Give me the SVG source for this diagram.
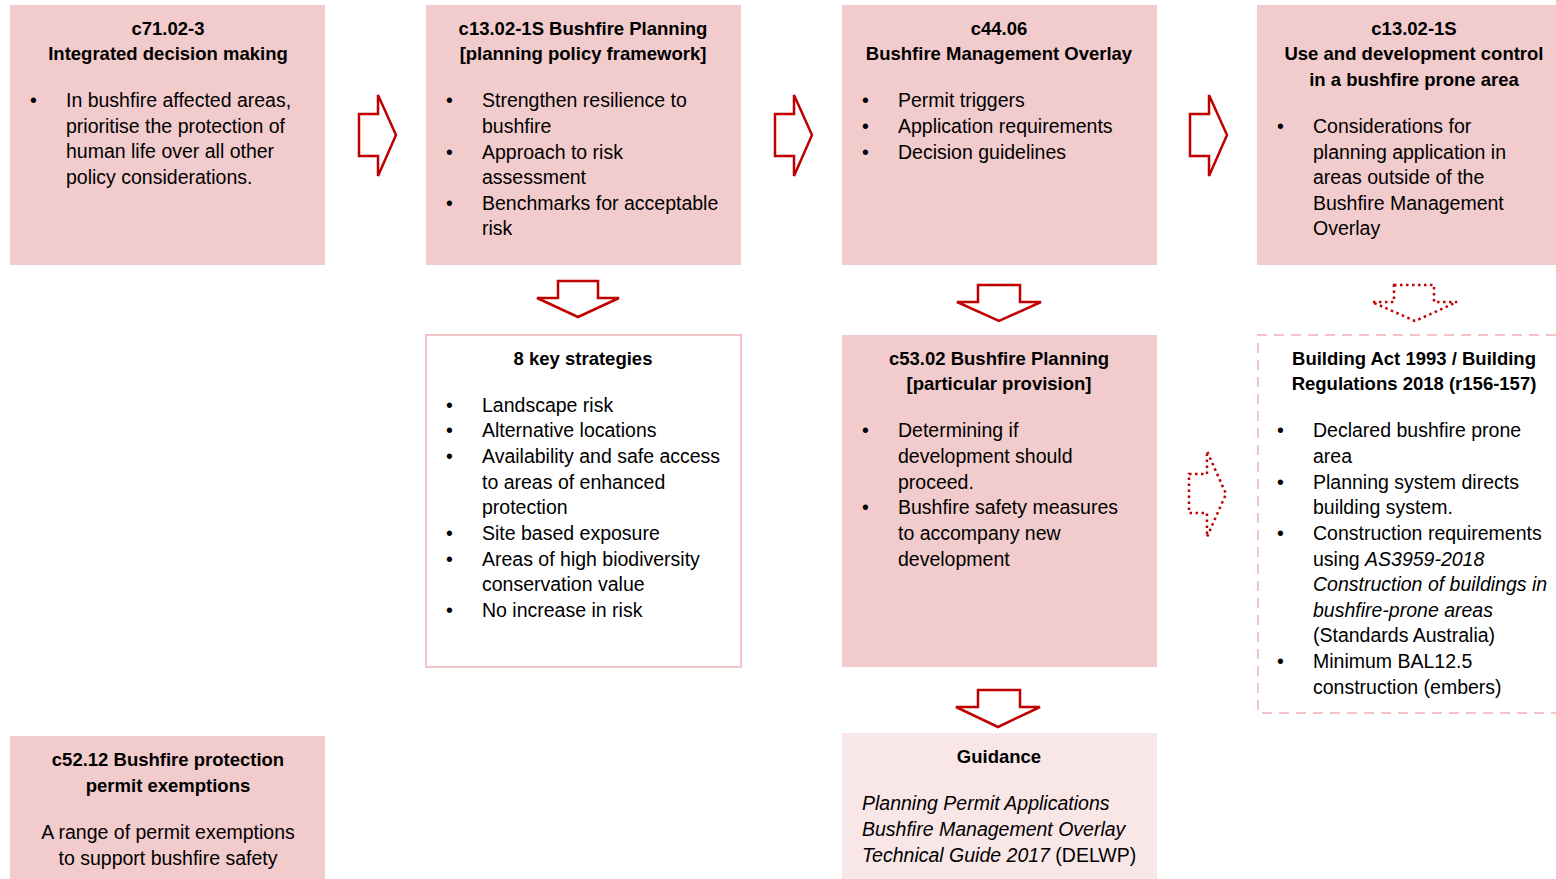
<svg xmlns="http://www.w3.org/2000/svg" width="1556" height="879" viewBox="0 0 1556 879">
<style>
text{font-family:"Liberation Sans",Arial,sans-serif;font-size:19.5px;fill:#000}
.t{font-weight:bold;text-anchor:middle;font-size:18.5px}
.c{text-anchor:middle}
.i{font-style:italic}
.box{fill:#f2cbcd}
.light{fill:#f9e6e7}
.white{fill:#fff;stroke:#f2c4c6;stroke-width:2}
.dash{fill:#fff;stroke:#f2c4c6;stroke-width:2;stroke-dasharray:10 7}
.arr{fill:#fff;stroke:#c00000;stroke-width:2.5;stroke-linejoin:miter}
.dot{fill:#fff;stroke:#c00000;stroke-width:2.5;stroke-dasharray:2.5 3.5}
</style>
<rect width="1556" height="879" fill="#fff"/>

<g id="n1">
<rect class="box" x="10" y="5" width="315" height="260"/>
<text class="t" x="168" y="35">c71.02-3</text>
<text class="t" x="168" y="60">Integrated decision making</text>
<text x="30" y="107">•</text>
<text x="66" y="107">In bushfire affected areas,</text>
<text x="66" y="133">prioritise the protection of</text>
<text x="66" y="158">human life over all other</text>
<text x="66" y="184">policy considerations.</text>
</g>

<g id="n2">
<rect class="box" x="426" y="5" width="315" height="260"/>
<text class="t" x="583" y="35">c13.02-1S Bushfire Planning</text>
<text class="t" x="583" y="60">[planning policy framework]</text>
<text x="446" y="107">•</text>
<text x="482" y="107">Strengthen resilience to</text>
<text x="482" y="133">bushfire</text>
<text x="446" y="159">•</text>
<text x="482" y="159">Approach to risk</text>
<text x="482" y="184">assessment</text>
<text x="446" y="210">•</text>
<text x="482" y="210">Benchmarks for acceptable</text>
<text x="482" y="235">risk</text>
</g>

<g id="n3">
<rect class="box" x="842" y="5" width="315" height="260"/>
<text class="t" x="999" y="35">c44.06</text>
<text class="t" x="999" y="60">Bushfire Management Overlay</text>
<text x="862" y="107">•</text>
<text x="898" y="107">Permit triggers</text>
<text x="862" y="133">•</text>
<text x="898" y="133">Application requirements</text>
<text x="862" y="159">•</text>
<text x="898" y="159">Decision guidelines</text>
</g>

<g id="n4">
<rect class="box" x="1257" y="5" width="299" height="260"/>
<text class="t" x="1414" y="35">c13.02-1S</text>
<text class="t" x="1414" y="60">Use and development control</text>
<text class="t" x="1414" y="86">in a bushfire prone area</text>
<text x="1277" y="133">•</text>
<text x="1313" y="133">Considerations for</text>
<text x="1313" y="159">planning application in</text>
<text x="1313" y="184">areas outside of the</text>
<text x="1313" y="210">Bushfire Management</text>
<text x="1313" y="235">Overlay</text>
</g>

<g id="n5">
<rect class="white" x="426" y="335" width="315" height="332"/>
<text class="t" x="583" y="365">8 key strategies</text>
<text x="446" y="412">•</text>
<text x="482" y="412">Landscape risk</text>
<text x="446" y="437">•</text>
<text x="482" y="437">Alternative locations</text>
<text x="446" y="463">•</text>
<text x="482" y="463">Availability and safe access</text>
<text x="482" y="489">to areas of enhanced</text>
<text x="482" y="514">protection</text>
<text x="446" y="540">•</text>
<text x="482" y="540">Site based exposure</text>
<text x="446" y="566">•</text>
<text x="482" y="566">Areas of high biodiversity</text>
<text x="482" y="591">conservation value</text>
<text x="446" y="617">•</text>
<text x="482" y="617">No increase in risk</text>
</g>

<g id="n6">
<rect class="box" x="842" y="335" width="315" height="332"/>
<text class="t" x="999" y="365">c53.02 Bushfire Planning</text>
<text class="t" x="999" y="390">[particular provision]</text>
<text x="862" y="437">•</text>
<text x="898" y="437">Determining if</text>
<text x="898" y="463">development should</text>
<text x="898" y="489">proceed.</text>
<text x="862" y="514">•</text>
<text x="898" y="514">Bushfire safety measures</text>
<text x="898" y="540">to accompany new</text>
<text x="898" y="566">development</text>
</g>

<g id="n7">
<path class="dash" d="M1556,335 H1258 V713 H1556"/>
<text class="t" x="1414" y="365">Building Act 1993 / Building</text>
<text class="t" x="1414" y="390">Regulations 2018 (r156-157)</text>
<text x="1277" y="437">•</text>
<text x="1313" y="437">Declared bushfire prone</text>
<text x="1313" y="463">area</text>
<text x="1277" y="489">•</text>
<text x="1313" y="489">Planning system directs</text>
<text x="1313" y="514">building system.</text>
<text x="1277" y="540">•</text>
<text x="1313" y="540">Construction requirements</text>
<text x="1313" y="566">using <tspan class="i">AS3959-2018</tspan></text>
<text x="1313" y="591" class="i">Construction of buildings in</text>
<text x="1313" y="617" class="i">bushfire-prone areas</text>
<text x="1313" y="642">(Standards Australia)</text>
<text x="1277" y="668">•</text>
<text x="1313" y="668">Minimum BAL12.5</text>
<text x="1313" y="694">construction (embers)</text>
</g>

<g id="n8">
<rect class="box" x="10" y="736" width="315" height="143"/>
<text class="t" x="168" y="766">c52.12 Bushfire protection</text>
<text class="t" x="168" y="792">permit exemptions</text>
<text class="c" x="168" y="839">A range of permit exemptions</text>
<text class="c" x="168" y="865">to support bushfire safety</text>
</g>

<g id="n9">
<rect class="light" x="842" y="733" width="315" height="146"/>
<text class="t" x="999" y="763">Guidance</text>
<text x="862" y="810" class="i">Planning Permit Applications</text>
<text x="862" y="836" class="i">Bushfire Management Overlay</text>
<text x="862" y="862"><tspan class="i">Technical Guide 2017</tspan> (DELWP)</text>
</g>

<g id="connectors">
<path class="arr" d="M359,114 H378 V95 L396,135 L378,176 V156 H359 Z"/>
<path class="arr" d="M775,114 H794 V95 L812,135 L794,176 V156 H775 Z"/>
<path class="arr" d="M1190,114 H1209 V95 L1227,135 L1209,176 V156 H1190 Z"/>
<path class="arr" d="M558,281 H598 V298 H619 L578,317 L537,298 H558 Z"/>
<path class="arr" d="M978,285 H1020 V302 H1041 L999,321 L957,302 H978 Z"/>
<path class="dot" d="M1394,285 H1434 V302 H1457 L1415,321 L1372,302 H1394 Z"/>
<path class="arr" d="M978,690 H1020 V707 H1040 L998,727 L956,707 H978 Z"/>
<path class="dot" d="M1189,474 H1207 V451 L1226,494 L1207,537 V513 H1189 Z"/>
</g>
</svg>
